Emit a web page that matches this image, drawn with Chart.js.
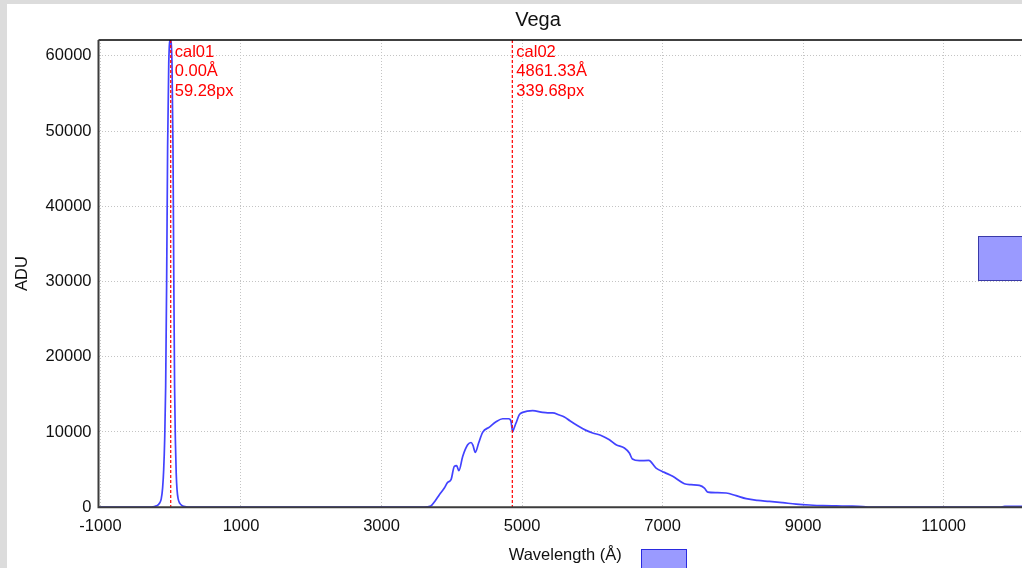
<!DOCTYPE html>
<html>
<head>
<meta charset="utf-8">
<title>Vega</title>
<script src="https://cdn.jsdelivr.net/npm/chart.js@4"></script>
<style>
  html, body { margin: 0; padding: 0; overflow: hidden; width: 1022px; height: 568px; background: #dcdcdc; }
  #panel { position: absolute; left: 7px; top: 4px; width: 1100px; height: 600px; background: #ffffff; }
  #wrap { position: absolute; left: 0; top: 0; width: 1100px; height: 568px; }
</style>
</head>
<body>
<div id="panel"></div>
<div id="wrap"><canvas id="spectrum" width="1100" height="568"></canvas></div>
<script>
// Vega spectrum: wavelength (Å) against detector counts (ADU)
const wavelengths = [
  -1027.8, -280, -250, -200, -160, -135, -115, -100, -86, -72, -58, -44, -28, -5,
  18, 32, 44, 55, 66, 78, 90, 106, 130, 165, 215, 290,
  3600, 3700, 3760, 3823, 3894, 3941, 3989, 4036, 4069, 4101, 4155, 4226, 4274, 4300,
  4335, 4382, 4439, 4535, 4630, 4724, 4810, 4843, 4866, 4890, 4914, 4961, 5009, 5151,
  5293, 5365, 5436, 5531, 5602, 5680, 5792, 5911, 6005, 6125, 6243, 6338, 6456, 6527,
  6570, 6670, 6802, 6907, 7026, 7144, 7310, 7405, 7524, 7595, 7642, 7761, 7904, 8046,
  8189, 8354, 8520, 8710, 8900, 9090, 9279, 9470, 9700, 9850, 9950, 11800, 11870, 12257
];
const adu = [
  0, 0, 60, 180, 520, 1100, 2600, 5000, 9000, 16000, 30000, 48000, 59000, 62100,
  59000, 48000, 30000, 16000, 9000, 4500, 2300, 1100, 500, 200, 60, 0,
  0, 150, 800, 1660, 2550, 3300, 3650, 5430, 5520, 4850, 6750, 8300, 8600, 8250,
  7300, 8530, 9950, 10650, 11360, 11760, 11760, 11400, 10050, 10600, 11190, 12300, 12600, 12830,
  12600, 12540, 12540, 12250, 12000, 11500, 10830, 10210, 9860, 9540, 8970, 8300, 7870, 7200,
  6400, 6180, 6220, 5200, 4630, 4100, 3120, 2990, 2900, 2550, 2000, 1930, 1890, 1530,
  1130, 900, 770, 600, 420, 290, 200, 170, 140, 80, 0, 0, 110, 110
];

// calibration markers
const calNames = ['cal01', 'cal02'];
const calWavelengths = [0.00, 4861.33];
const calPixels = [59.28, 339.68];

// axis ticks and ranges
const xTickValues = [-1000, 1000, 3000, 5000, 7000, 9000, 11000];
const yTickValues = [0, 10000, 20000, 30000, 40000, 50000, 60000];
const xRange = [-1027.8, 12257];
const yRange = [0, 62100];

const FONT = '"Liberation Sans", Arial, sans-serif';
const TEXT = '#111111';

const points = wavelengths.map((w, i) => ({ x: w, y: adu[i] }));

const overlay = {
  id: 'overlay',
  afterDatasetsDraw(chart) {
    const { ctx, chartArea: a, scales: { x } } = chart;
    ctx.save();
    // calibration lines and their captions
    calWavelengths.forEach((w, i) => {
      const px = x.getPixelForValue(w);
      ctx.beginPath();
      ctx.setLineDash([3, 2]);
      ctx.strokeStyle = '#ff0000';
      ctx.lineWidth = 1.2;
      ctx.moveTo(px, a.top);
      ctx.lineTo(px, a.bottom);
      ctx.stroke();
      ctx.setLineDash([]);
      ctx.fillStyle = '#ff0000';
      ctx.font = '16.5px ' + FONT;
      ctx.textAlign = 'left';
      ctx.textBaseline = 'alphabetic';
      const lines = [calNames[i], w.toFixed(2) + 'Å', calPixels[i].toFixed(2) + 'px'];
      lines.forEach((t, k) => ctx.fillText(t, px + 4, a.top + 16.7 + k * 19.5));
    });
    // plot frame
    ctx.strokeStyle = '#000000';
    ctx.lineWidth = 1.5;
    ctx.beginPath();
    ctx.moveTo(a.left, a.top);
    ctx.lineTo(a.right + 10, a.top);
    ctx.stroke();
    ctx.strokeStyle = '#3c3c3c';
    ctx.lineWidth = 2;
    ctx.beginPath();
    ctx.moveTo(a.left, a.top);
    ctx.lineTo(a.left, a.bottom);
    ctx.lineTo(a.right + 10, a.bottom);
    ctx.stroke();
    ctx.restore();
  },
  afterDraw(chart) {
    const { ctx } = chart;
    ctx.save();
    // series swatches
    ctx.fillStyle = '#9a9aff';
    ctx.lineWidth = 1;
    ctx.strokeStyle = '#2a2ae0';
    ctx.fillRect(641, 549, 46, 30);
    ctx.strokeRect(641.5, 549.5, 45, 30);
    ctx.strokeStyle = '#3a3aa8';
    ctx.fillRect(978, 236, 60, 45);
    ctx.strokeRect(978.5, 236.5, 60, 44);
    ctx.restore();
  }
};

new Chart(document.getElementById('spectrum'), {
  type: 'scatter',
  data: {
    datasets: [{
      label: 'Vega',
      data: points,
      showLine: true,
      borderColor: 'rgba(50,50,255,0.92)',
      borderWidth: 1.7,
      pointRadius: 0,
      pointHoverRadius: 0,
      cubicInterpolationMode: 'monotone'
    }]
  },
  options: {
    responsive: false,
    animation: false,
    events: [],
    layout: { padding: { left: 44, right: 68, top: 4, bottom: 0 } },
    plugins: {
      legend: { display: false },
      tooltip: { enabled: false },
      title: {
        display: true,
        text: 'Vega',
        color: TEXT,
        font: { family: FONT, size: 20, weight: 'normal' },
        padding: { top: 4, bottom: 8 }
      }
    },
    scales: {
      x: {
        type: 'linear',
        min: xRange[0],
        max: xRange[1],
        afterBuildTicks: s => { s.ticks = xTickValues.map(v => ({ value: v })); },
        afterFit: s => { s.height = 60.8; },
        grid: { color: '#c4c4c4', lineWidth: 1, drawTicks: false },
        border: { display: false, dash: [1, 2] },
        ticks: {
          color: TEXT,
          padding: 9,
          maxRotation: 0,
          autoSkip: false,
          font: { family: FONT, size: 16.5 },
          callback: v => String(v)
        },
        title: {
          display: true,
          text: 'Wavelength (Å)',
          color: TEXT,
          font: { family: FONT, size: 16.5 },
          padding: { top: 0, bottom: 3 }
        }
      },
      y: {
        type: 'linear',
        min: yRange[0],
        max: yRange[1],
        afterBuildTicks: s => { s.ticks = yTickValues.map(v => ({ value: v })); },
        afterFit: s => { s.width = 54.5; },
        grid: { color: '#c4c4c4', lineWidth: 1, drawTicks: false },
        border: { display: false, dash: [1, 2] },
        ticks: {
          color: TEXT,
          padding: 7,
          autoSkip: false,
          font: { family: FONT, size: 16.5 },
          callback: v => String(v)
        },
        title: {
          display: true,
          text: 'ADU',
          color: TEXT,
          font: { family: FONT, size: 16.5 },
          padding: { top: -31.4, bottom: 0 }
        }
      }
    }
  },
  plugins: [overlay]
});
</script>
</body>
</html>
